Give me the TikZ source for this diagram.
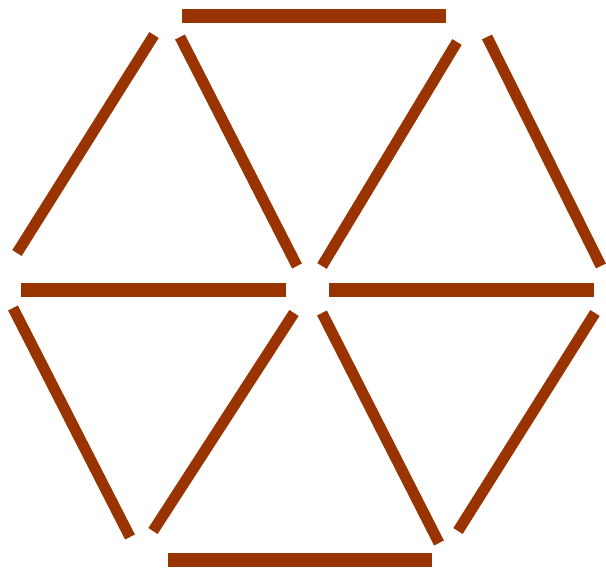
\documentclass[tikz,border=0pt]{standalone}
\usepackage{tikz}
\definecolor{stickbrown}{RGB}{153,51,0}

\begin{document}
\begin{tikzpicture}[
  x=0.5pt, y=-0.5pt,
  flat/.style={draw=stickbrown, line width=7pt},
  slant/.style={draw=stickbrown, line width=5.5pt}
]
\useasboundingbox (0,0) rectangle (606,571);
% horizontal sticks
\coordinate (topA) at (182,16);  \coordinate (topB) at (446,16);
\coordinate (botA) at (168,560); \coordinate (botB) at (432,560);
\coordinate (midLA) at (21,290); \coordinate (midLB) at (286,290);
\coordinate (midRA) at (329,290); \coordinate (midRB) at (594,290);
\draw[flat] (topA) -- (topB);
\draw[flat] (botA) -- (botB);
\draw[flat] (midLA) -- (midLB);
\draw[flat] (midRA) -- (midRB);
% slanted sticks, upper half
\coordinate (ulA) at (154,35);  \coordinate (ulB) at (17,253);
\coordinate (uiA) at (180,37);  \coordinate (uiB) at (297,266);
\coordinate (urA) at (457,42);  \coordinate (urB) at (322,266);
\coordinate (uoA) at (487,37);  \coordinate (uoB) at (601,266);
\draw[slant] (ulA) -- (ulB);
\draw[slant] (uiA) -- (uiB);
\draw[slant] (urA) -- (urB);
\draw[slant] (uoA) -- (uoB);
% slanted sticks, lower half
\coordinate (llA) at (13,308);  \coordinate (llB) at (130,537);
\coordinate (liA) at (294,313); \coordinate (liB) at (153,531);
\coordinate (lrA) at (322,313); \coordinate (lrB) at (439,543);
\coordinate (loA) at (595,313); \coordinate (loB) at (458,531);
\draw[slant] (llA) -- (llB);
\draw[slant] (liA) -- (liB);
\draw[slant] (lrA) -- (lrB);
\draw[slant] (loA) -- (loB);
\end{tikzpicture}
\end{document}
